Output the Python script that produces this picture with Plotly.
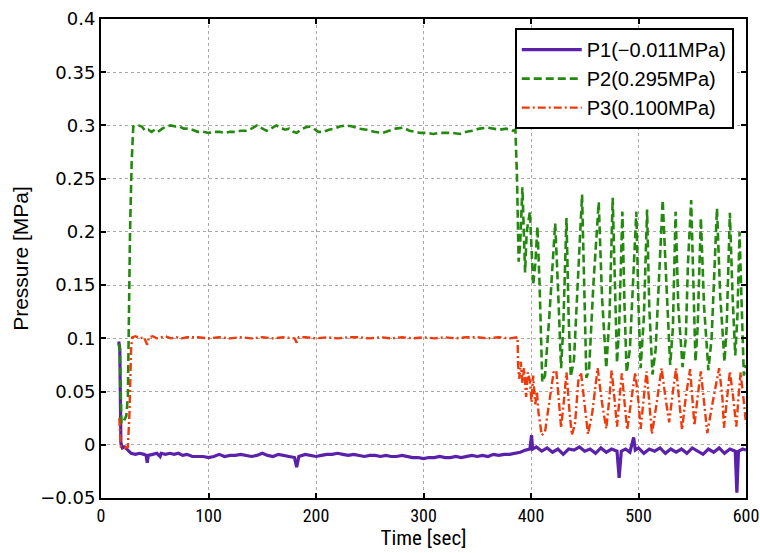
import plotly.graph_objects as go

# ---------------- data ----------------
p1_time = [16.5, 17.5, 18.5, 20, 22, 24, 26, 28, 32, 36, 40, 42, 43, 44, 48, 52, 55, 56, 60, 64,
           68, 72, 76, 80, 85, 90, 95, 100, 105, 110, 115, 120, 125, 130, 135, 140, 145, 150, 155, 160,
           165, 170, 175, 180, 182, 184, 190, 195, 200, 205, 210, 215, 220, 225, 230, 235, 240, 245, 250, 255,
           260, 265, 270, 275, 280, 285, 290, 295, 300, 305, 310, 315, 320, 325, 330, 335, 340, 345, 350, 355,
           360, 365, 370, 375, 380, 385, 390, 395, 399, 400.5, 401.5, 405, 410, 415, 420, 425, 430, 435, 440, 445,
           450, 455, 460, 465, 470, 475, 480, 482, 484, 488, 492, 495.5, 497, 500, 505, 510, 515, 520, 525, 530,
           535, 540, 545, 550, 555, 560, 565, 570, 575, 580, 585, 590, 591.5, 593, 597, 600]
p1_mpa = [0.097, 0.090, 0.002, -0.003, -0.002, -0.004, -0.006, -0.008, -0.009, -0.008, -0.009, -0.010, -0.017, -0.010, -0.009, -0.008, -0.011, -0.008, -0.009, -0.008,
          -0.009, -0.008, -0.010, -0.009, -0.011, -0.011, -0.011, -0.012, -0.011, -0.009, -0.011, -0.010, -0.010, -0.009, -0.010, -0.011, -0.010, -0.008, -0.010, -0.011,
          -0.009, -0.010, -0.011, -0.012, -0.021, -0.011, -0.009, -0.010, -0.011, -0.010, -0.009, -0.009, -0.008, -0.009, -0.010, -0.009, -0.010, -0.011, -0.010, -0.010,
          -0.011, -0.010, -0.011, -0.011, -0.010, -0.011, -0.012, -0.012, -0.013, -0.012, -0.012, -0.011, -0.012, -0.012, -0.011, -0.012, -0.011, -0.010, -0.011, -0.010,
          -0.011, -0.009, -0.010, -0.009, -0.009, -0.008, -0.007, -0.005, -0.004, 0.009, -0.004, -0.002, -0.006, -0.003, -0.007, -0.004, -0.009, -0.004, -0.005, -0.002,
          -0.006, -0.004, -0.008, -0.003, -0.007, -0.004, -0.006, -0.031, -0.006, -0.004, -0.007, 0.007, -0.005, -0.003, -0.008, -0.004, -0.006, -0.003, -0.008, -0.004,
          -0.007, -0.004, -0.008, -0.003, -0.006, -0.009, -0.004, -0.007, -0.003, -0.008, -0.004, -0.006, -0.045, -0.006, -0.004, -0.005]

p2_time = [16.5, 17.5, 19, 21, 23.5, 25, 27, 28.5, 30, 32, 35, 38, 41, 44, 47, 50, 53, 57, 61, 65,
           69, 73, 77, 81, 85, 90, 95, 100, 105, 110, 115, 120, 125, 130, 135, 140, 145, 150, 154, 158,
           163, 167, 171, 175, 179, 182, 186, 190, 194, 198, 202, 207, 212, 217, 222, 228, 234, 240, 247, 254,
           262, 268, 274, 281, 287, 292, 297, 303, 309, 315, 321, 327, 334, 340, 346, 352, 359, 365, 371, 377,
           383, 385.5, 387, 388.5, 390, 392, 394.5, 396, 399, 402, 404, 406, 408, 410.5, 413, 417, 422.5, 425, 428, 430,
           433, 435, 437, 440, 444, 447.5, 449.5, 451.5, 454, 458, 463, 466, 470, 473, 476, 478, 480, 482, 485, 487,
           489, 492, 495, 498, 500, 502, 505, 508, 510, 513, 516, 519, 522.5, 526, 529.5, 532, 534.5, 537, 541, 544,
           546, 549, 551, 553, 555, 558, 561, 565, 568, 570, 573, 576, 580, 582, 585, 587.5, 590, 592, 594, 596,
           598, 600]
p2_mpa = [0.095, 0.090, 0.020, 0.022, 0.027, 0.045, 0.200, 0.265, 0.299, 0.300, 0.300, 0.299, 0.295, 0.296, 0.294, 0.296, 0.294, 0.297, 0.299, 0.300,
          0.299, 0.299, 0.297, 0.297, 0.296, 0.294, 0.294, 0.293, 0.294, 0.294, 0.293, 0.294, 0.294, 0.295, 0.295, 0.297, 0.300, 0.297, 0.295, 0.297,
          0.300, 0.298, 0.296, 0.297, 0.294, 0.293, 0.296, 0.298, 0.299, 0.297, 0.294, 0.294, 0.296, 0.297, 0.299, 0.300, 0.299, 0.297, 0.296, 0.294,
          0.293, 0.295, 0.297, 0.298, 0.295, 0.294, 0.293, 0.293, 0.292, 0.293, 0.293, 0.293, 0.292, 0.294, 0.295, 0.297, 0.298, 0.297, 0.296, 0.297,
          0.295, 0.296, 0.250, 0.172, 0.190, 0.242, 0.162, 0.200, 0.219, 0.150, 0.170, 0.205, 0.150, 0.059, 0.065, 0.120, 0.208, 0.150, 0.072, 0.110,
          0.213, 0.120, 0.064, 0.080, 0.170, 0.235, 0.150, 0.063, 0.070, 0.150, 0.228, 0.140, 0.072, 0.120, 0.232, 0.150, 0.077, 0.110, 0.219, 0.130,
          0.068, 0.090, 0.150, 0.219, 0.130, 0.072, 0.120, 0.221, 0.130, 0.066, 0.090, 0.150, 0.230, 0.150, 0.075, 0.110, 0.219, 0.130, 0.073, 0.100,
          0.170, 0.230, 0.150, 0.078, 0.110, 0.213, 0.130, 0.070, 0.100, 0.150, 0.222, 0.140, 0.078, 0.110, 0.218, 0.140, 0.084, 0.120, 0.200, 0.130,
          0.065, 0.075]

p3_time = [17, 18.5, 22, 25, 26.5, 28, 29, 32, 36, 40, 43, 44.5, 48, 52, 56, 60, 65, 70, 75, 80,
           90, 100, 110, 120, 130, 140, 150, 160, 170, 180, 182, 184, 190, 200, 210, 220, 230, 240, 250, 260,
           270, 280, 290, 300, 310, 320, 330, 340, 350, 360, 370, 380, 387.5, 388, 389, 390.5, 392, 393.5, 395.5, 397,
           399, 400.5, 402, 404, 405.5, 407, 410, 413, 417, 421, 423.5, 426, 428, 430.5, 433, 435.5, 438, 441, 444, 446.5,
           449.5, 453, 457, 462, 466, 470, 473, 475, 478, 480, 482, 484.5, 487, 489.5, 493, 497, 500, 502, 505, 507.5,
           510, 512.5, 517, 521.5, 525, 528.5, 532, 535, 538, 540.5, 544, 548, 550, 552, 555, 558, 561, 564, 569, 575,
           578, 579.5, 582, 585, 588, 591, 593, 595, 598, 600]
p3_mpa = [0.025, -0.002, -0.003, -0.002, 0.030, 0.090, 0.101, 0.102, 0.100, 0.101, 0.094, 0.101, 0.102, 0.100, 0.101, 0.102, 0.100, 0.101, 0.100, 0.101,
          0.101, 0.100, 0.101, 0.100, 0.101, 0.100, 0.101, 0.100, 0.101, 0.100, 0.096, 0.101, 0.101, 0.100, 0.101, 0.100, 0.101, 0.101, 0.100, 0.101,
          0.100, 0.101, 0.100, 0.101, 0.100, 0.101, 0.100, 0.101, 0.101, 0.100, 0.101, 0.100, 0.101, 0.075, 0.062, 0.078, 0.058, 0.072, 0.045, 0.068,
          0.060, 0.040, 0.065, 0.038, 0.050, 0.030, 0.009, 0.012, 0.040, 0.068, 0.070, 0.040, 0.016, 0.040, 0.068, 0.035, 0.009, 0.020, 0.060, 0.068,
          0.040, 0.010, 0.030, 0.072, 0.040, 0.015, 0.045, 0.070, 0.040, 0.017, 0.040, 0.067, 0.040, 0.014, 0.040, 0.068, 0.040, 0.015, 0.045, 0.069,
          0.040, 0.010, 0.040, 0.072, 0.045, 0.021, 0.050, 0.072, 0.040, 0.014, 0.045, 0.071, 0.045, 0.018, 0.045, 0.069, 0.040, 0.011, 0.040, 0.072,
          0.045, 0.016, 0.040, 0.069, 0.045, 0.017, 0.045, 0.068, 0.040, 0.020]

series_names = ["P1(\u22120.011MPa)", "P2(0.295MPa)", "P3(0.100MPa)"]
series_colors = ["#5a22aa", "#238a0f", "#f03a0a"]

x_ticks = [0, 100, 200, 300, 400, 500, 600]
y_ticks = [-0.05, 0, 0.05, 0.1, 0.15, 0.2, 0.25, 0.3, 0.35, 0.4]

# ---------------- figure ----------------
fig = go.Figure()
fig.add_trace(go.Scatter(x=p1_time, y=p1_mpa, mode="lines", name=series_names[0],
                         line=dict(color=series_colors[0], width=3.2, dash="solid")))
fig.add_trace(go.Scatter(x=p2_time, y=p2_mpa, mode="lines", name=series_names[1],
                         line=dict(color=series_colors[1], width=2.6, dash="8px,4px")))
fig.add_trace(go.Scatter(x=p3_time, y=p3_mpa, mode="lines", name=series_names[2],
                         line=dict(color=series_colors[2], width=2.4, dash="8px,3px,2px,3px")))

axis_common = dict(
    showline=True, linecolor="black", linewidth=2, mirror="ticks",
    ticks="inside", ticklen=5, tickwidth=1.5, tickcolor="black",
    showgrid=True, gridcolor="#a8a8a8", griddash="dot", gridwidth=1,
    zeroline=False, automargin=False, ticklabeloverflow="allow",
)

narrow = "Liberation Sans Narrow, Roboto Condensed, Liberation Sans, sans-serif"

fig.update_layout(
    width=760, height=553,
    margin=dict(l=101, r=14, t=19, b=55),
    paper_bgcolor="white", plot_bgcolor="white",
    font=dict(family="Liberation Sans, Arial, sans-serif", size=17, color="black"),
    xaxis=dict(range=[0, 600], tickvals=x_ticks, ticktext=[str(v) for v in x_ticks],
               title=dict(text="Time [sec]", standoff=5,
                          font=dict(family=narrow, size=21)),
               tickfont=dict(family=narrow, size=18),
               **axis_common),
    yaxis=dict(range=[-0.05, 0.4], tickvals=y_ticks,
               title=dict(text="Pressure [MPa]", standoff=6,
                          font=dict(family="Liberation Sans, Arial, sans-serif", size=21)),
               tickfont=dict(family="DejaVu Sans, sans-serif", size=18),
               **axis_common),
    legend=dict(x=0.981, y=0.981, xanchor="right", yanchor="top",
                bgcolor="white", bordercolor="black", borderwidth=2,
                font=dict(family="Liberation Sans, Arial, sans-serif", size=20),
                tracegroupgap=0, itemwidth=60),
    showlegend=True,
)

fig.write_html("out.html", config={"displayModeBar": False},
               post_script="document.body.style.margin='0';document.body.style.padding='0';")
